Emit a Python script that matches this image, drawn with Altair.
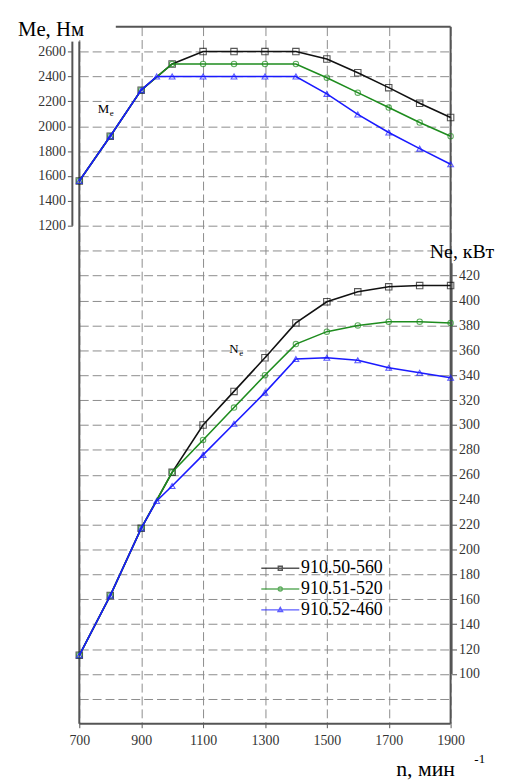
import altair as alt
import pandas as pd

# ---------------- data ----------------
series = ["910.50-560", "910.51-520", "910.52-460"]
colors = ["#111111", "#1e8c1e", "#1a1aff"]

rpm = [700, 800, 900, 1000, 1100, 1200, 1300, 1400, 1500, 1600, 1700, 1800, 1900]
rpm_460 = [700, 800, 900, 950, 1000, 1100, 1200, 1300, 1400, 1500, 1600, 1700, 1800, 1900]

me_560 = [1560, 1920, 2290, 2500, 2600, 2600, 2600, 2600, 2540, 2430, 2310, 2185, 2070]
me_520 = [1560, 1920, 2290, 2500, 2500, 2500, 2500, 2500, 2390, 2270, 2150, 2030, 1920]
me_460 = [1560, 1920, 2290, 2400, 2400, 2400, 2400, 2400, 2400, 2260, 2095, 1950, 1820, 1695]

ne_560 = [115, 163, 217, 262, 300, 327, 354, 382, 399, 407, 411, 412, 412]
ne_520 = [115, 163, 217, 262, 288, 314, 340, 365, 375, 380, 383, 383, 382]
ne_460 = [115, 163, 217, 239, 251, 276, 301, 326, 353, 354, 352, 346, 342, 338]

x_ticks = list(range(700, 1901, 100))
grid_ticks = list(range(-2600, 2601, 200))
me_ticks = list(range(1200, 2601, 200))
ne_ticks = list(range(100, 421, 20))

# ---------------- tables ----------------
frames = []
for name, xs, me, ne in [
    (series[0], rpm, me_560, ne_560),
    (series[1], rpm, me_520, ne_520),
    (series[2], rpm_460, me_460, ne_460),
]:
    frames.append(pd.DataFrame({"series": name, "rpm": xs, "me": me, "ne": ne}))
df = pd.concat(frames, ignore_index=True)
one = pd.DataFrame({"a": [0]})

FONT = "Liberation Serif"
W, H = 375, 704
GRID = "#8c8c8c"
FRAME = "#555555"
LBL = "#333333"

x_enc = alt.X(
    "rpm:Q",
    scale=alt.Scale(domain=[700, 1900], nice=False, zero=False),
    axis=alt.Axis(
        values=x_ticks, format="d", grid=True, gridDash=[9, 4], gridColor=GRID,
        gridWidth=1, domain=False, tickSize=4, tickColor=FRAME,
        tickOpacity={"condition": {"test": "datum.value % 200 == 100", "value": 1}, "value": 0},
        labelExpr="datum.value % 200 == 100 ? datum.label : ''",
        labelFont=FONT, labelFontSize=14, labelColor=LBL, labelPadding=6,
        labelFlush=False, labelOverlap=False,
        title=None,
    ),
)

me_scale = alt.Scale(domain=[-2800, 2800], nice=False, zero=False)

y_me = alt.Y(
    "me:Q",
    scale=me_scale,
    axis=alt.Axis(
        orient="left", values=me_ticks, format="d", grid=False, domain=False, offset=7,
        tickSize=5, tickColor=FRAME,
        labelFont=FONT, labelFontSize=14, labelColor=LBL, labelPadding=2,
        labelFlush=False, labelOverlap=False,
        title=None,
    ),
)

grid_axis = alt.Axis(
    orient="left", values=grid_ticks, grid=True, gridDash=[9, 4], gridColor=GRID, gridWidth=1,
    labels=False, ticks=False, domain=False, title=None,
)


def YG(v):
    return alt.YDatum(v, type="quantitative", scale=me_scale, axis=grid_axis)


y_ne = alt.Y(
    "ne:Q",
    scale=alt.Scale(domain=[60, 620], nice=False, zero=False),
    axis=alt.Axis(
        orient="right", values=ne_ticks, format="d", grid=False, domain=False,
        offset=1, tickSize=5, tickColor=FRAME,
        labelFont=FONT, labelFontSize=14, labelColor=LBL, labelPadding=2,
        labelFlush=False, labelOverlap=False,
        title=None,
    ),
)

shapes = ["square", "circle", "triangle-up"]
sizes = [42, 30, 34]


def series_layers(yfield_enc):
    out = []
    for name, col, shp, sz in zip(series, colors, shapes, sizes):
        base = alt.Chart(df).transform_filter(alt.datum.series == name)
        out.append(base.mark_line(color=col, strokeWidth=1.6).encode(x=x_enc, y=yfield_enc))
        out.append(
            base.mark_point(shape=shp, color=col, size=sz, filled=False, strokeWidth=1.1).encode(
                x=x_enc, y=yfield_enc
            )
        )
    return out


def rule(**enc):
    return alt.Chart(one).mark_rule(color=FRAME, strokeWidth=2).encode(**enc)


def label(text, x, y, size, align="left"):
    return alt.Chart(one).mark_text(
        text=text, font=FONT, fontSize=size, color="#000", align=align, baseline="alphabetic"
    ).encode(x=alt.value(x), y=alt.value(y))


legend_paths = [
    "M-2.4,0H2.4M-0.25,-0.25H0.25V0.25H-0.25Z",
    "M-2.4,0H2.4M0.25,0A0.25,0.25,0,1,1,-0.25,0A0.25,0.25,0,1,1,0.25,0Z",
    "M-2.4,0H2.4M0,-0.3L0.28,0.2H-0.28Z",
]
leg = alt.Legend(
    orient="none", legendX=194, legendY=538, title=None, labelFont=FONT,
    labelFontSize=18, labelColor="#000", symbolSize=256, symbolStrokeWidth=1.5,
    rowPadding=3, labelOffset=12, padding=0,
)
legend_layer = (
    alt.Chart(df)
    .mark_point(filled=False, size=256)
    .encode(
        color=alt.Color("series:N", scale=alt.Scale(domain=series, range=colors), legend=leg),
        shape=alt.Shape("series:N", scale=alt.Scale(domain=series, range=legend_paths), legend=leg),
    )
    .transform_filter("false")
)

grid_layers = [
    rule(x=alt.datum(818), x2=alt.datum(1900), y=YG(2800)),
    rule(x=alt.datum(700), y=YG(2680), y2=alt.Y2Datum(-2800)),
    rule(x=alt.datum(1900), y=YG(2800), y2=alt.Y2Datum(-2800)),
    rule(x=alt.datum(700), x2=alt.datum(1900), y=YG(-2800)),
    rule(x=alt.value(-7), y=YG(2680), y2=alt.Y2Datum(1200)),
    alt.Chart(one).mark_text(text="M", font=FONT, fontSize=13, align="left", baseline="alphabetic").encode(
        x=alt.datum(760), y=YG(2110)
    ),
    alt.Chart(one).mark_text(text="e", font=FONT, fontSize=9, align="left", baseline="alphabetic", dx=12, dy=3).encode(
        x=alt.datum(760), y=YG(2110)
    ),
    label("Me, Нм", -62, 9, 21),
    label("n, мин", 320, 757, 22),
    label("-1", 399, 744, 13),
]

left_layers = series_layers(y_me) + [legend_layer]

right_layers = [
    alt.Chart(one).mark_rule(color=FRAME, strokeWidth=2).encode(
        x=alt.value(376), y=alt.datum(430), y2=alt.datum(100)
    ),
] + series_layers(y_ne) + [
    alt.Chart(one).mark_text(text="N", font=FONT, fontSize=13, align="left", baseline="alphabetic").encode(
        x=alt.datum(1185), y=alt.datum(358)
    ),
    alt.Chart(one).mark_text(text="e", font=FONT, fontSize=9, align="left", baseline="alphabetic", dx=10, dy=3).encode(
        x=alt.datum(1185), y=alt.datum(358)
    ),
    label("Ne, кВт", 354, 234, 20),
]

grid_group = alt.layer(*grid_layers)
left = alt.layer(*left_layers)
right = alt.layer(*right_layers)

chart = (
    alt.layer(grid_group, left, right)
    .resolve_scale(y="independent")
    .properties(
        width=W, height=H,
        autosize=alt.AutoSizeParams(type="none"),
        padding={"left": 72, "top": 15, "right": 62, "bottom": 57},
        background="white",
    )
    .configure(font=FONT)
    .configure_axis(labelFont=FONT, labelOverlap=False, labelFlush=False)
    .configure_legend(labelFont=FONT)
    .configure_view(stroke=None)
)

chart.save("out.html", embed_options={"renderer": "svg", "actions": False})
